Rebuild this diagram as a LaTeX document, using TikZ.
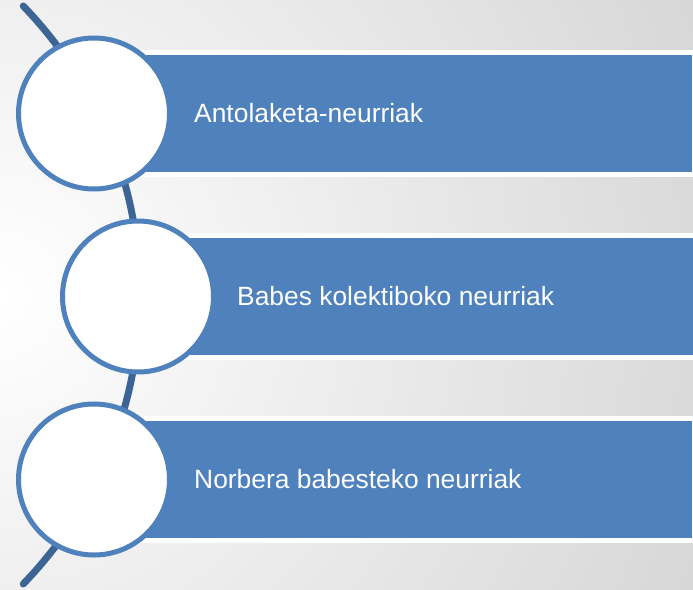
\documentclass[tikz,border=0pt]{standalone}
\usepackage{fontspec}
\setmainfont{Liberation Sans}
\definecolor{barblue}{HTML}{4F81BD}
\definecolor{arcblue}{HTML}{3C6595}
\definecolor{bggray}{HTML}{CFCFCF}
\begin{document}
\begin{tikzpicture}[x=1pt,y=-1pt,
  bar/.style={rectangle, fill=barblue, draw=white, line width=5pt, anchor=west,
    minimum width=600pt, minimum height=122pt, inner sep=0pt, outer sep=0pt},
  disc/.style={circle, fill=white, draw=barblue, line width=5pt,
    minimum size=151pt, inner sep=0pt},
  lbl/.style={text=white, anchor=base west, inner sep=0pt,
    font=\fontsize{26.4}{30}\selectfont},
  arcline/.style={draw=arcblue, line width=7pt, line cap=round}]
\useasboundingbox (0,0) rectangle (693,589);
\begin{scope}
\clip (0,0) rectangle (693,589);
\fill[inner color=white, outer color=bggray] (0,295) circle (900);
% arc
\coordinate (ac) at (-276,295);
\draw[arcline] (ac) ++(-44:416) arc[start angle=-44, end angle=44, radius=416];
% bars
\node[bar] (b1) at (94,113.5) {};
\node[bar] (b2) at (138,296.5) {};
\node[bar] (b3) at (94,479.5) {};
% circles
\node[disc] (c1) at (94,113.5) {};
\node[disc] (c2) at (138,296.5) {};
\node[disc] (c3) at (94,479.5) {};
\end{scope}
% labels
\node[lbl] (t1) at (194,122) {Antolaketa-neurriak};
\node[lbl] (t2) at (237,305) {Babes kolektiboko neurriak};
\node[lbl] (t3) at (194,488) {Norbera babesteko neurriak};
\end{tikzpicture}
\end{document}
